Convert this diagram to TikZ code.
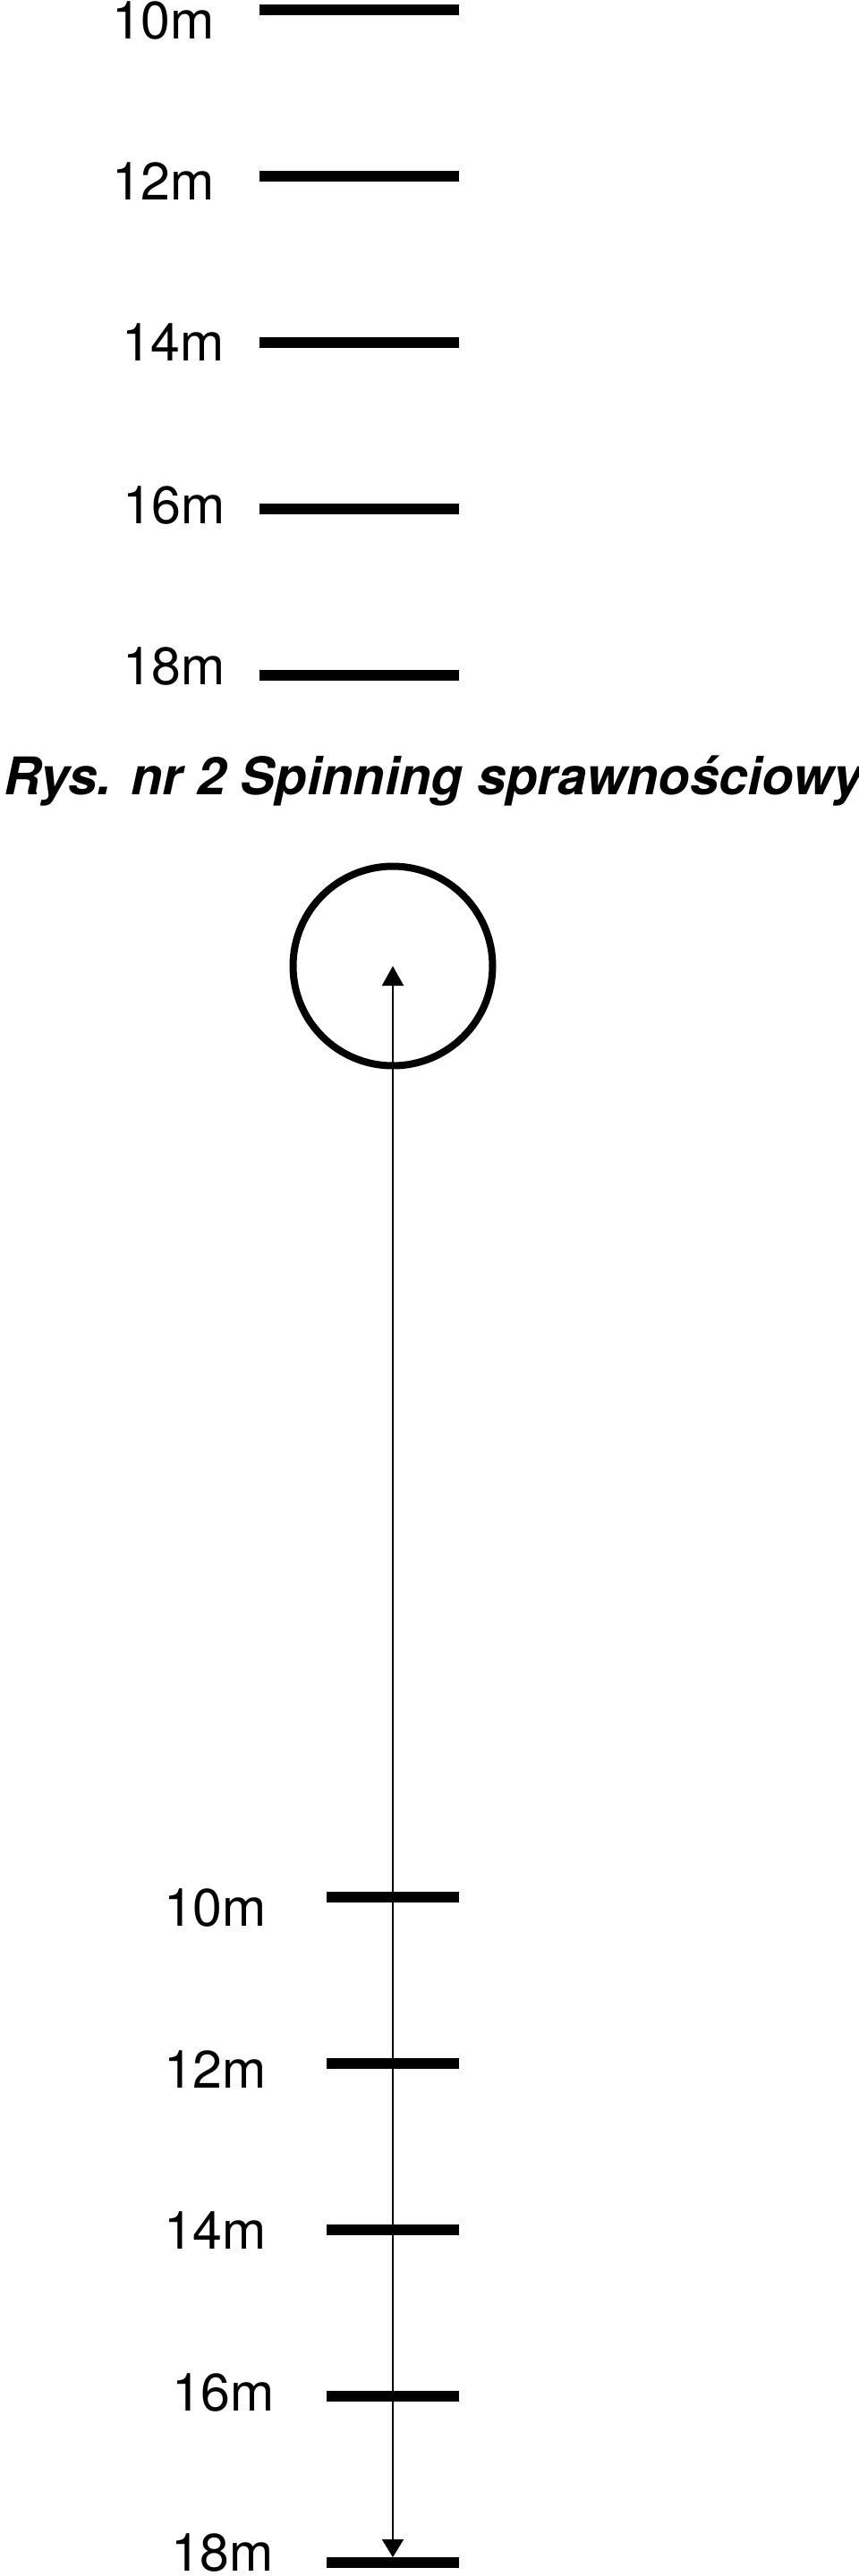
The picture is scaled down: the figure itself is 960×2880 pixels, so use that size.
\documentclass[tikz,border=0pt]{standalone}
\usepackage{fontspec}
\setmainfont{TeX Gyre Heros}
\usetikzlibrary{arrows.meta}
\tikzset{
  bar/.style={line width=12pt},
  lbl/.style={font=\fontsize{59}{62}\selectfont, inner sep=0pt, anchor=base east},
  ttl/.style={font=\fontsize{58}{62}\selectfont\bfseries\itshape, inner sep=0pt, anchor=base west},
  target/.style={draw, circle, line width=8pt, minimum size=223pt, inner sep=0pt},
  runline/.style={line width=2pt, arrows={Triangle[length=22pt,width=24pt]-Triangle[length=20pt,width=24pt]}}
}
\begin{document}
\begin{tikzpicture}[x=1pt,y=-1pt]
\useasboundingbox (0,0) rectangle (960,2880);
% upper scale
\foreach \n/\y/\lx/\ly in {10/11/240/43, 12/197/240/223, 14/383/251/403, 16/569/252/585, 18/755/252/765}{
  \coordinate (ua\n) at (290,\y);
  \coordinate (ub\n) at (513,\y);
  \draw[bar] (ua\n) -- (ub\n);
  \node[lbl] (ul\n) at (\lx,\ly) {\n m};
}
% title
\node[ttl] (title) at (4,888) {Rys. nr 2 Spinning sprawnościowy};
% target circle
\node[target] (tgt) at (439,1080) {};
% lower scale
\foreach \n/\y/\lx/\ly in {10/2121/298/2153, 12/2307/298/2334, 14/2493/298/2514, 16/2679/307/2695, 18/2865/306/2874}{
  \coordinate (la\n) at (365,\y);
  \coordinate (lb\n) at (513,\y);
  \draw[bar] (la\n) -- (lb\n);
  \node[lbl] (ll\n) at (\lx,\ly) {\n m};
}
\coordinate (tipend) at (439,2859);
\draw[runline] (tgt.center) -- (tipend);
\end{tikzpicture}
\end{document}
